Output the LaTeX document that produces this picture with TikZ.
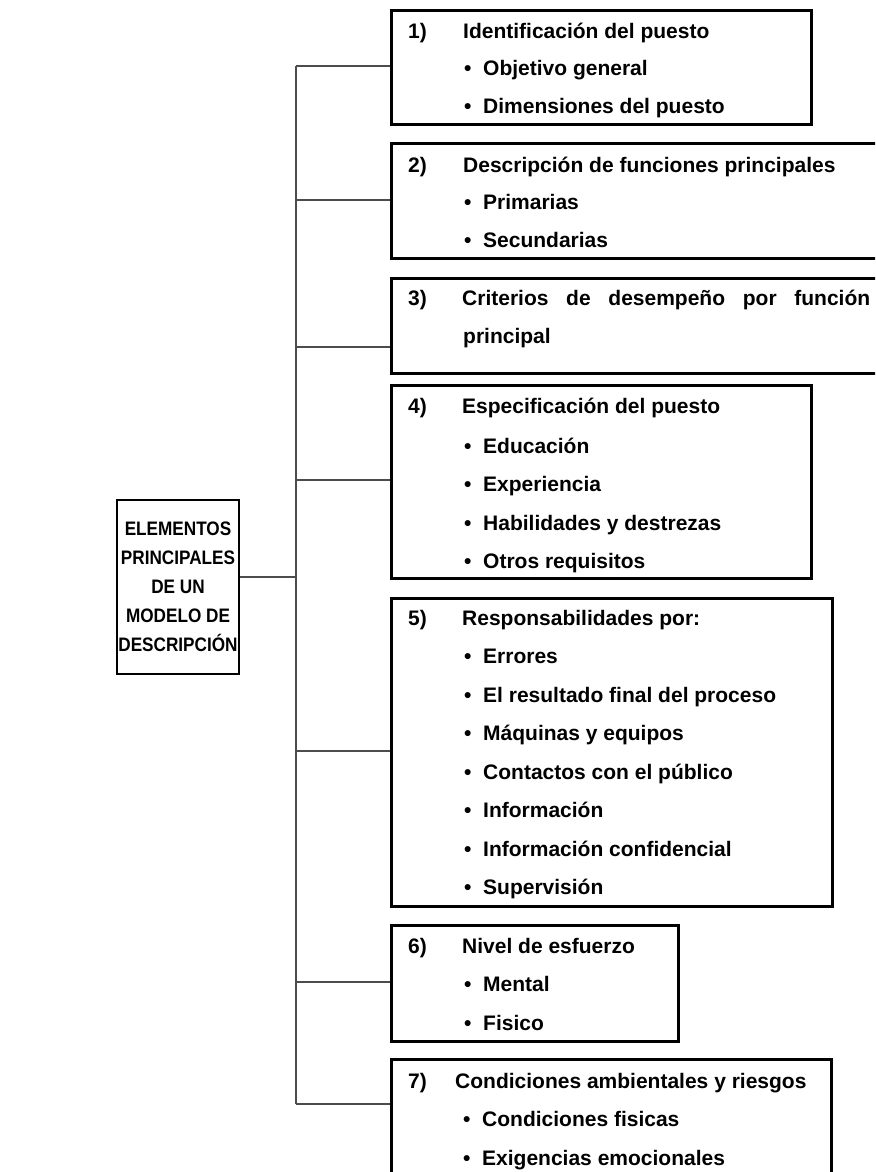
\documentclass[tikz,border=0pt]{standalone}
\usepackage{fontspec}
\setmainfont{Liberation Sans}
\newfontfamily\rootfont[FakeStretch=0.88]{Liberation Sans}
\usetikzlibrary{calc}
\tikzset{
	box/.style={draw, line width=2.6pt, anchor=north west, inner sep=0pt},
	rootbox/.style={draw, line width=2.6pt, inner sep=0pt, align=center,
			font=\rootfont\bfseries\fontsize{19.5}{29}\selectfont},
	conn/.style={draw=black!70, line width=1.6pt},
	txt/.style={anchor=base west, inner sep=0pt, font=\bfseries\fontsize{21}{25}\selectfont}
}
\newcommand{\bul}[1]{\makebox[19pt][l]{•}#1}

\begin{document}
\begin{tikzpicture}[x=1pt,y=-1pt]
        \useasboundingbox (0,0) rectangle (875,1172);
        \clip (0,0) rectangle (875,1172);
        \node[rootbox, minimum width=122pt, minimum height=174pt] (root) at (178,587)
            {ELEMENTOS\\PRINCIPALES\\DE UN\\MODELO DE\\DESCRIPCIÓN};
        \node[box, minimum width=420pt, minimum height=114pt] (b1) at (390,9) {};
        \node[box, minimum width=495pt, minimum height=115pt] (b2) at (390,142) {};
        \node[box, minimum width=495pt, minimum height=95pt] (b3) at (390,277) {};
        \node[box, minimum width=420pt, minimum height=193pt] (b4) at (390,384) {};
        \node[box, minimum width=441pt, minimum height=308pt] (b5) at (390,597) {};
        \node[box, minimum width=287pt, minimum height=116pt] (b6) at (390,924) {};
        \node[box, minimum width=440pt, minimum height=140pt] (b7) at (390,1058) {};
        % 1)
        \node[txt] (n1) at (408,38) {1)};
        \node[txt] (h1) at (463,38) {Identificación del puesto};
        \node[txt] (h1a) at (464,75) {\bul{Objetivo general}};
        \node[txt] (h1b) at (464,113) {\bul{Dimensiones del puesto}};
        % 2)
        \node[txt] (n2) at (408,172) {2)};
        \node[txt] (h2) at (463,172) {Descripción de funciones principales};
        \node[txt] (h2a) at (464,209) {\bul{Primarias}};
        \node[txt] (h2b) at (464,247) {\bul{Secundarias}};
        % 3)
        \node[txt] (n3) at (408,305) {3)};
        \node[txt] (h3) at (462,305) {\makebox[408pt][s]{Criterios de desempeño por función}};
        \node[txt] (h3a) at (463,343) {principal};
        % 4)
        \node[txt] (n4) at (408,413) {4)};
        \node[txt] (h4) at (462,413) {Especificación del puesto};
        \node[txt] (h4a) at (464,453) {\bul{Educación}};
        \node[txt] (h4b) at (464,491) {\bul{Experiencia}};
        \node[txt] (h4c) at (464,530) {\bul{Habilidades y destrezas}};
        \node[txt] (h4d) at (464,568) {\bul{Otros requisitos}};
        % 5)
        \node[txt] (n5) at (408,625) {5)};
        \node[txt] (h5) at (462,625) {Responsabilidades por:};
        \node[txt] (h5a) at (464,663) {\bul{Errores}};
        \node[txt] (h5b) at (464,702) {\bul{El resultado final del proceso}};
        \node[txt] (h5c) at (464,740) {\bul{Máquinas y equipos}};
        \node[txt] (h5d) at (464,779) {\bul{Contactos con el público}};
        \node[txt] (h5e) at (464,817) {\bul{Información}};
        \node[txt] (h5f) at (464,856) {\bul{Información confidencial}};
        \node[txt] (h5g) at (464,894) {\bul{Supervisión}};
        % 6)
        \node[txt] (n6) at (408,953) {6)};
        \node[txt] (h6) at (462,953) {Nivel de esfuerzo};
        \node[txt] (h6a) at (464,991) {\bul{Mental}};
        \node[txt] (h6b) at (464,1030) {\bul{Fisico}};
        % 7)
        \node[txt] (n7) at (408,1088) {7)};
        \node[txt] (h7) at (455,1088) {Condiciones ambientales y riesgos};
        \node[txt] (h7a) at (463,1126) {\bul{Condiciones fisicas}};
        \node[txt] (h7b) at (463,1165) {\bul{Exigencias emocionales}};
        % conectores
        \coordinate (t0) at (296,577);
        \coordinate (t1) at (296,66);
        \coordinate (t2) at (296,200);
        \coordinate (t3) at (296,347);
        \coordinate (t4) at (296,480);
        \coordinate (t5) at (296,751);
        \coordinate (t6) at (296,982);
        \coordinate (t7) at (296,1104);
        \draw[conn] (t1) -- (t7);
        \draw[conn] (root.east |- t0) -- (t0);
        \draw[conn] (t1) -- (t1 -| b1.west);
        \draw[conn] (t2) -- (t2 -| b2.west);
        \draw[conn] (t3) -- (t3 -| b3.west);
        \draw[conn] (t4) -- (t4 -| b4.west);
        \draw[conn] (t5) -- (t5 -| b5.west);
        \draw[conn] (t6) -- (t6 -| b6.west);
        \draw[conn] (t7) -- (t7 -| b7.west);
    \end{tikzpicture}
\end{document}
